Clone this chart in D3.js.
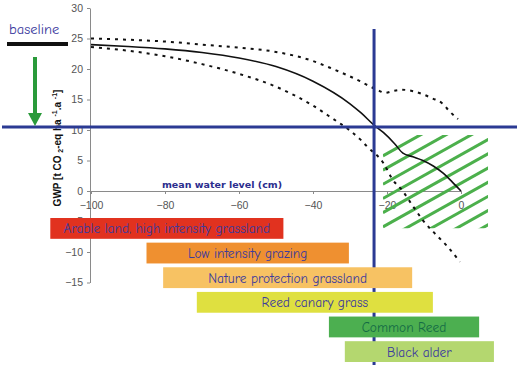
<!DOCTYPE html>
<html>
<head>
<meta charset="utf-8">
<script src="https://cdn.jsdelivr.net/npm/d3@7"></script>
<style>
  html, body { margin: 0; padding: 0; background: #fff; }
  svg { display: block; }
</style>
</head>
<body>
<svg id="chart" width="520" height="365"></svg>
<script>
// ---------- data ----------
const xTicks = [-100, -80, -60, -40, -20, 0];
const yTicks = [30, 25, 20, 15, 10, 5, 0, -5, -10, -15];

const solidLevel = [-100, -90, -80, -70, -60, -50, -40, -30, -27, -23.5, -21, -18, -15.7, -13, -10.3, -7.5, -5, -2.4, 0];
const solidGWP   = [24.0, 23.7, 23.3, 22.7, 21.8, 20.4, 18.0, 14.3, 12.8, 10.8, 9.6, 7.8, 6.2, 5.6, 5.0, 4.1, 3.0, 1.5, 0];

const upperLevel = [-100, -90, -80, -70, -60, -50, -40, -35.4, -30.8, -27.3, -25.1, -22.7, -20.5, -18.4, -15.9, -13.2, -10.5, -7.8, -5.1, -3.0, -0.8];
const upperGWP   = [25.0, 24.8, 24.5, 24.0, 23.5, 22.8, 21.3, 20.2, 19.0, 18.0, 17.3, 16.6, 16.1, 16.4, 16.6, 16.4, 15.9, 15.2, 14.4, 13.0, 11.8];

const lowerLevel = [-100, -90, -80, -70, -60, -50, -40, -35, -30, -27.3, -25.4, -21, -18.4, -16, -13.2, -10.3, -6.2, -3.8, -0.3];
const lowerGWP   = [23.6, 23.0, 22.1, 20.8, 19.2, 17.1, 14.0, 12.0, 9.9, 8.5, 7.3, 4.6, 1.8, 0.2, -2.3, -4.8, -7.5, -9.0, -11.6];

const baselineGWP = 24.1;
const targetGWP = 10.5;
const targetLevel = -23.5;

const hatchLevel = [-21.1, 7.3];
const hatchGWP = [9.2, -6.1];

const landUse = ["Arable land, high intensity grassland", "Low intensity grazing", "Nature protection grassland",
                 "Reed canary grass", "Common Reed", "Black alder"];
const landFrom = [-111, -85, -80.5, -71.4, -35.7, -31.4];
const landTo   = [-48, -30.3, -13.2, -7.6, 4.9, 8.9];
const landColor = ["#e1321f", "#ef9030", "#f7c263", "#dfe040", "#4caf50", "#b4d76f"];
const landText  = ["#3b3a9e", "#3b3a9e", "#3b3a9e", "#3b3a9e", "#146b45", "#3b3a9e"];

// ---------- layout ----------
const svg = d3.select("#chart");
const x = d3.scaleLinear().domain([-100, 0]).range([91, 461]);
const y = d3.scaleLinear().domain([-15, 30]).range([282.5, 8]);
const band = d3.scaleBand().domain(landUse).range([218, 362]).paddingInner(0.155).paddingOuter(0);

const blue = "#2b3a93";
const comic = "'Comic Sans MS', 'Comic Neue', 'Open Sans', sans-serif";

// axes
const gy = svg.append("g").attr("transform", `translate(${x(-100) - 1},0)`)
  .call(d3.axisLeft(y).tickValues(yTicks).tickSize(3).tickSizeOuter(0).tickPadding(4));
const gx = svg.append("g").attr("transform", `translate(0,${y(0)})`)
  .call(d3.axisBottom(x).tickValues(xTicks).tickSize(3).tickSizeOuter(0).tickPadding(8));
[gx, gy].forEach(g => {
  g.select(".domain").attr("stroke", "#8a8a8a");
  g.selectAll(".tick line").attr("stroke", "#8a8a8a");
  g.selectAll(".tick text").attr("fill", "#555").attr("font-family", "Arial, 'Liberation Sans', sans-serif").attr("font-size", 10.5);
});

// axis titles
svg.append("text")
  .attr("x", 222).attr("y", 188)
  .attr("text-anchor", "middle")
  .attr("font-family", "Verdana, 'DejaVu Sans', sans-serif")
  .attr("font-weight", "bold").attr("font-size", 9.5)
  .attr("fill", "#2b2d8e")
  .text("mean water level (cm)");

const yl = svg.append("text")
  .attr("transform", "translate(61,148) rotate(-90)")
  .attr("text-anchor", "middle")
  .attr("font-family", "Arial, 'Liberation Sans', sans-serif")
  .attr("font-weight", "bold").attr("font-size", 10)
  .attr("fill", "#111");
yl.append("tspan").text("GWP [t CO ");
yl.append("tspan").attr("font-size", 7).attr("dy", 2).text("2");
yl.append("tspan").attr("dy", -2).text("-eq  ha ");
yl.append("tspan").attr("font-size", 7).attr("dy", -4).text("-1");
yl.append("tspan").attr("dy", 4).text(".a ");
yl.append("tspan").attr("font-size", 7).attr("dy", -4).text("-1");
yl.append("tspan").attr("dy", 4).text("]");

// hatch area
const hx0 = x(hatchLevel[0]), hx1 = x(hatchLevel[1]);
const hy0 = y(hatchGWP[0]), hy1 = y(hatchGWP[1]);
svg.append("clipPath").attr("id", "hclip").append("rect")
  .attr("x", hx0).attr("y", hy0).attr("width", hx1 - hx0).attr("height", hy1 - hy0);
const slope = 0.56, gap = 14.2, firstOff = 21;
const hatchIdx = d3.range(0, 12);
svg.append("g").attr("clip-path", "url(#hclip)")
  .selectAll("line").data(hatchIdx).join("line")
  .attr("x1", hx0)
  .attr("y1", k => hy0 + firstOff + k * gap)
  .attr("x2", hx0 + 200)
  .attr("y2", k => hy0 + firstOff + k * gap - 200 * slope)
  .attr("stroke", "#4cb04c").attr("stroke-width", 3);

// curves
const line = d3.line().x(d => x(d[0])).y(d => y(d[1])).curve(d3.curveMonotoneX);
const zip = (a, b) => a.map((v, i) => [v, b[i]]);
svg.append("path").attr("d", line(zip(upperLevel, upperGWP)))
  .attr("fill", "none").attr("stroke", "#111").attr("stroke-width", 2).attr("stroke-dasharray", "3,5");
svg.append("path").attr("d", line(zip(lowerLevel, lowerGWP)))
  .attr("fill", "none").attr("stroke", "#111").attr("stroke-width", 2).attr("stroke-dasharray", "3,5");
svg.append("path").attr("d", line(zip(solidLevel, solidGWP)))
  .attr("fill", "none").attr("stroke", "#111").attr("stroke-width", 1.6);

// target lines
svg.append("line").attr("x1", 2).attr("x2", 517).attr("y1", y(targetGWP)).attr("y2", y(targetGWP))
  .attr("stroke", blue).attr("stroke-width", 3);
svg.append("line").attr("x1", x(targetLevel)).attr("x2", x(targetLevel)).attr("y1", 29).attr("y2", 365)
  .attr("stroke", blue).attr("stroke-width", 3);

// baseline marker
svg.append("text").attr("x", 9).attr("y", 34)
  .attr("font-family", comic).attr("font-size", 14.5).attr("fill", "#3b3a9e").text("baseline");
svg.append("line").attr("x1", 7).attr("x2", 68).attr("y1", y(baselineGWP)).attr("y2", y(baselineGWP))
  .attr("stroke", "#111").attr("stroke-width", 4);
// arrow
svg.append("line").attr("x1", 35).attr("x2", 35).attr("y1", 57).attr("y2", y(targetGWP) - 12)
  .attr("stroke", "#2a9a3a").attr("stroke-width", 4);
svg.append("path")
  .attr("d", `M28,${y(targetGWP) - 14} L42,${y(targetGWP) - 14} L35,${y(targetGWP) - 1} Z`)
  .attr("fill", "#2a9a3a");

// land use bars
const bars = svg.append("g").selectAll("g").data(landUse).join("g");
bars.append("rect")
  .attr("x", (d, i) => x(landFrom[i]))
  .attr("y", d => band(d))
  .attr("width", (d, i) => x(landTo[i]) - x(landFrom[i]))
  .attr("height", band.bandwidth())
  .attr("fill", (d, i) => landColor[i]);
bars.append("text")
  .attr("x", (d, i) => (x(landFrom[i]) + x(landTo[i])) / 2)
  .attr("y", d => band(d) + band.bandwidth() / 2 + 5)
  .attr("text-anchor", "middle")
  .attr("font-family", comic).attr("font-size", 13.4)
  .attr("fill", (d, i) => landText[i])
  .text(d => d);
</script>
</body>
</html>
